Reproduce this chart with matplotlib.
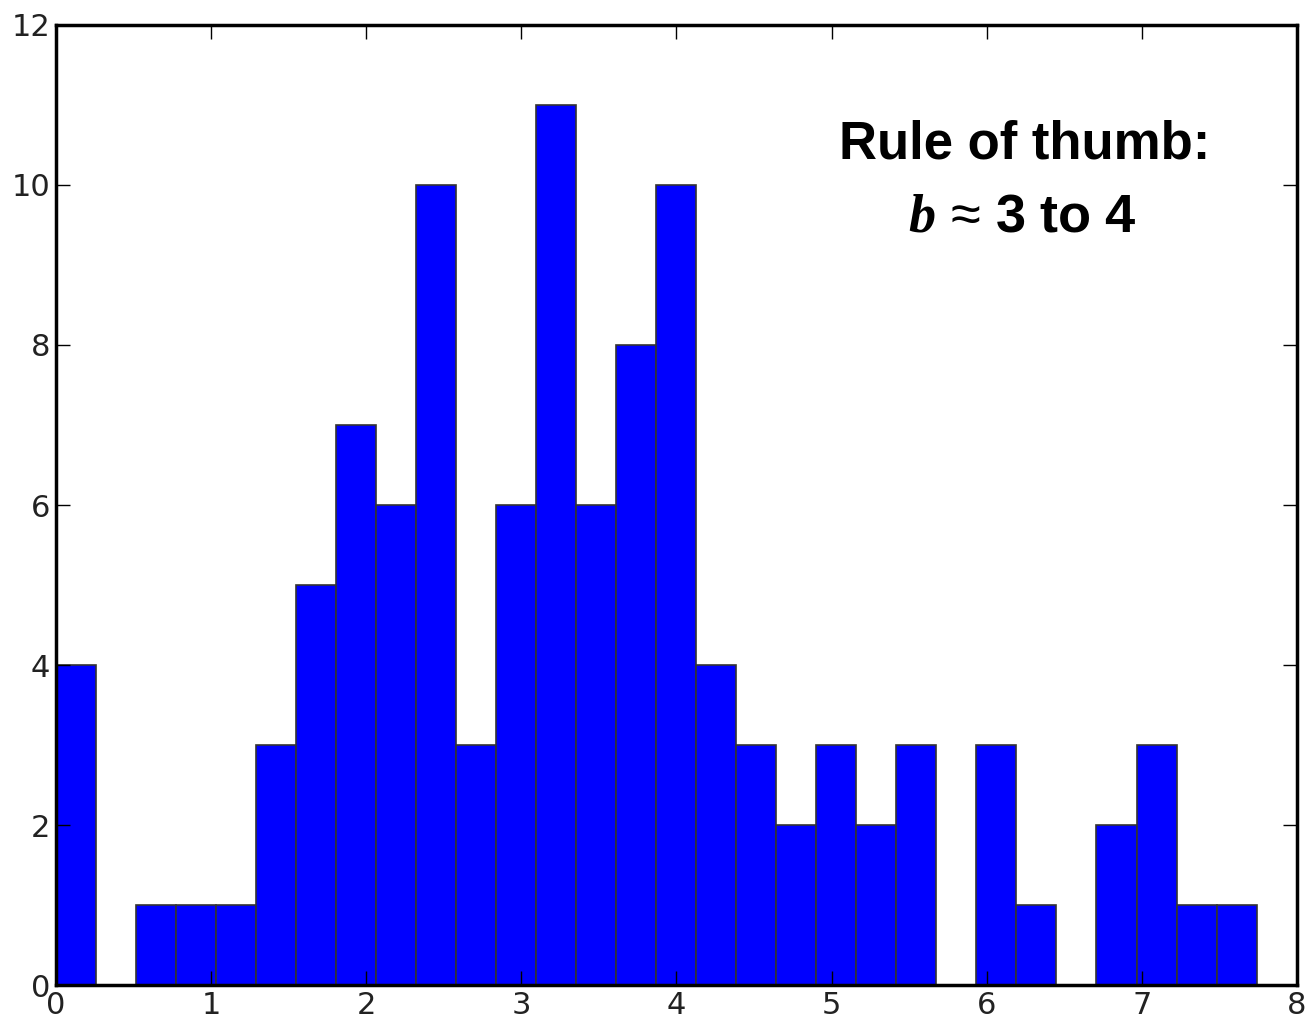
import numpy as np
import matplotlib.pyplot as plt

# histogram counts, 30 equal bins from 0 to ~7.74
counts = [4, 0, 1, 1, 1, 3, 5, 7, 6, 10, 3, 6, 11, 6, 8, 10,
          4, 3, 2, 3, 2, 3, 0, 3, 1, 0, 2, 3, 1, 1]
data_min = 0.0
data_max = 7.74

xticks = [0, 1, 2, 3, 4, 5, 6, 7, 8]
yticks = [0, 2, 4, 6, 8, 10, 12]

plt.rcParams['mathtext.fontset'] = 'custom'
plt.rcParams['mathtext.it'] = 'Liberation Serif:italic:bold'
plt.rcParams['mathtext.rm'] = 'Liberation Sans'
plt.rcParams['mathtext.bf'] = 'Liberation Sans:bold'

fig = plt.figure(figsize=(13.1, 10.23), dpi=100)
ax = fig.add_axes([0.0427, 0.0371, 0.9473, 0.9385])

edges = np.linspace(data_min, data_max, len(counts) + 1)
ax.bar(edges[:-1], counts, width=np.diff(edges), align='edge',
       color='#0000ff', edgecolor='#333333', linewidth=1.2)

ax.set_xlim(0, 8)
ax.set_ylim(0, 12)
ax.set_xticks(xticks)
ax.set_yticks(yticks)
ax.tick_params(direction='in', length=10, width=1, top=True, right=True,
               labelsize=22, pad=4)
for lab in ax.get_xticklabels() + ax.get_yticklabels():
    lab.set_color('#222222')
for s in ax.spines.values():
    s.set_linewidth(2.5)

ax.text(0.781, 0.876, 'Rule of thumb:', transform=ax.transAxes,
        ha='center', va='center', fontsize=38, fontweight='bold',
        family='Liberation Sans')
ax.text(0.779, 0.800, r'$b\,\approx\,\mathbf{3\ to\ 4}$', transform=ax.transAxes,
        ha='center', va='center', fontsize=39)

fig.savefig('out.png', dpi=100)
